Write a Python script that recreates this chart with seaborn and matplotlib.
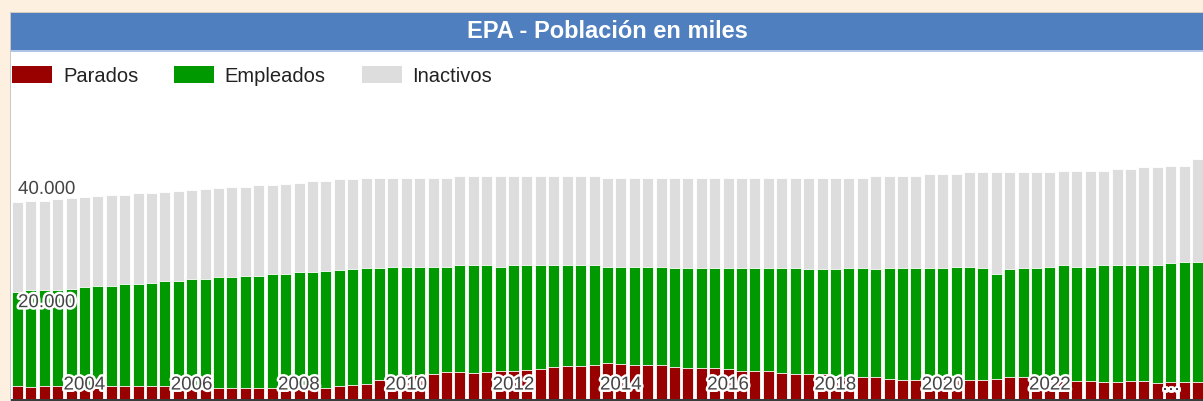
import pandas as pd
import matplotlib.pyplot as plt
import matplotlib.patheffects as pe
from matplotlib.patches import Rectangle
import seaborn as sns

# EPA trimestral, miles de personas (2002T1 .. 2024T1)
quarters = [f"{y}T{q}" for y in range(2002, 2025) for q in range(1, 5)][:89]

parados = [2153, 2103, 2196, 2232, 2328, 2227, 2232, 2177, 2287, 2215, 2141, 2214,
           2101, 1935, 1781, 1863, 1936, 1840, 1785, 1819, 1856, 1760, 1792, 1928,
           2174, 2382, 2599, 3208, 4011, 4138, 4123, 4335, 4613, 4655, 4575, 4697,
           4910, 4834, 4978, 5274, 5640, 5693, 5778, 5965, 6278, 6047, 5943, 5936,
           5933, 5623, 5428, 5458, 5445, 5149, 4851, 4780, 4791, 4575, 4321, 4238,
           4255, 3914, 3732, 3767, 3796, 3490, 3326, 3304, 3354, 3231, 3214, 3192,
           3313, 3368, 3723, 3720, 3654, 3544, 3417, 3104, 3175, 2919, 2980, 3024,
           3128, 2763, 2855, 2831, 2978]

empleados = [16557, 16977, 16904, 16958, 16952, 17403, 17668, 17743, 17873, 17965, 18319, 18546,
             18679, 19145, 19319, 19517, 19464, 19820, 19895, 20141, 20124, 20510, 20608, 20632,
             20506, 20478, 20381, 19892, 19229, 19122, 19127, 18935, 18647, 18885, 18985, 18853,
             18350, 18706, 18582, 18286, 17930, 17867, 17802, 17595, 17012, 17213, 17307, 17334,
             17327, 17367, 17552, 17532, 17525, 17831, 18139, 18200, 18179, 18415, 18659, 18622,
             18595, 18956, 19248, 19223, 19064, 19490, 19664, 19676, 19636, 19749, 20046, 20078,
             19667, 18622, 19137, 19260, 19336, 19716, 20143, 20156, 20095, 20641, 20570, 20536,
             20442, 20797, 21005, 21269, 21172]

inactivos = [15920, 15830, 15820, 15970, 16050, 15990, 15840, 16000, 15770, 16040, 15770, 15740,
             15900, 15720, 15850, 15720, 15850, 15740, 15920, 15790, 15920, 15820, 15990, 15840,
             16010, 15840, 15980, 15870, 15740, 15710, 15710, 15700, 15720, 15770, 15760, 15780,
             16060, 15770, 15760, 15770, 15750, 15750, 15740, 15770, 15680, 15700, 15720, 15710,
             15710, 15970, 15990, 15990, 16000, 15980, 15980, 16000, 16000, 15970, 15990, 16120,
             16120, 16090, 15990, 15990, 16410, 16280, 16280, 16300, 16630, 16630, 16360, 16650,
             16930, 17930, 17070, 16940, 16920, 16660, 16640, 16950, 16930, 16630, 16950, 16950,
             17230, 17230, 17230, 16980, 18120]

year_ticks = [5, 13, 21, 29, 37, 45, 53, 61, 69, 77, 86]
year_labels = ["2004", "2006", "2008", "2010", "2012", "2014", "2016", "2018", "2020", "2022", "…"]
y_ticks = [20000, 40000]
y_labels = ["20.000", "40.000"]

colors = {"Parados": "#990000", "Empleados": "#009900", "Inactivos": "#dddddd"}

df = pd.DataFrame({"trimestre": quarters, "Parados": parados,
                   "Empleados": empleados, "Inactivos": inactivos})
df["activos"] = df["Parados"] + df["Empleados"]
df["total"] = df["activos"] + df["Inactivos"]

sns.set_style("white")
plt.rcParams["font.family"] = ["Liberation Sans", "DejaVu Sans"]

W, H = 1203, 401
fig = plt.figure(figsize=(W / 100, H / 100), dpi=100)
fig.patch.set_facecolor("white")


def box(x0, y0, x1, y1, color, z=1):
    # pixel coordinates measured from the top-left corner
    fig.add_artist(Rectangle((x0 / W, 1 - y1 / H), (x1 - x0) / W, (y1 - y0) / H,
                             transform=fig.transFigure, facecolor=color,
                             edgecolor="none", zorder=z))


# frame and title bar
box(0, 0, W, 12, "#fdf0e0")
box(0, 0, 10, H, "#fdf0e0")
box(10, 12, W, 13, "#d6cbbd")
box(10, 12, 11, H, "#c8c8c8")
box(11, 13, W, 50, "#4f7fbe")
box(11, 50, W, 51.5, "#aec4e4")
fig.text(607 / W, 1 - 38 / H, "EPA - Población en miles", ha="center", va="baseline",
         color="white", fontsize=17, fontweight="bold")

# legend
legend_pos = [("Parados", 12, 63), ("Empleados", 174, 224), ("Inactivos", 362, 412)]
for name, sx, tx in legend_pos:
    box(sx, 66, sx + 40, 83, colors[name])
    fig.text(tx / W, 1 - 81.5 / H, name, ha="left", va="baseline",
             color="#222222", fontsize=14.5)

# bars
ax = fig.add_axes([11 / W, (H - 398.5) / H, 1192 / W, 298.5 / H])
for col, key in [("total", "Inactivos"), ("activos", "Empleados"), ("Parados", "Parados")]:
    sns.barplot(data=df, x="trimestre", y=col, color=colors[key], saturation=1,
                width=0.82, edgecolor="white", linewidth=0.6, errorbar=None, ax=ax)
ax.set_xlim(-0.477, 88.41)
ax.set_ylim(0, 52685)
ax.axis("off")

halo = [pe.withStroke(linewidth=3.5, foreground="white")]
for pos, lab in zip(year_ticks, year_labels):
    ax.text(pos, 0.030, lab, transform=ax.get_xaxis_transform(), ha="center",
            va="baseline", fontsize=13.5, color="#444444", path_effects=halo, zorder=5)
for val, lab in zip(y_ticks, y_labels):
    ax.annotate(lab, xy=(0, val), xycoords=ax.get_yaxis_transform(),
                xytext=(7, -22), textcoords="offset pixels", ha="left", va="baseline",
                fontsize=13.5, color="#444444", path_effects=halo, zorder=5)

box(11, 398.5, W, H, "#3a3a3a", z=3)

fig.savefig("out.png", dpi=100)
